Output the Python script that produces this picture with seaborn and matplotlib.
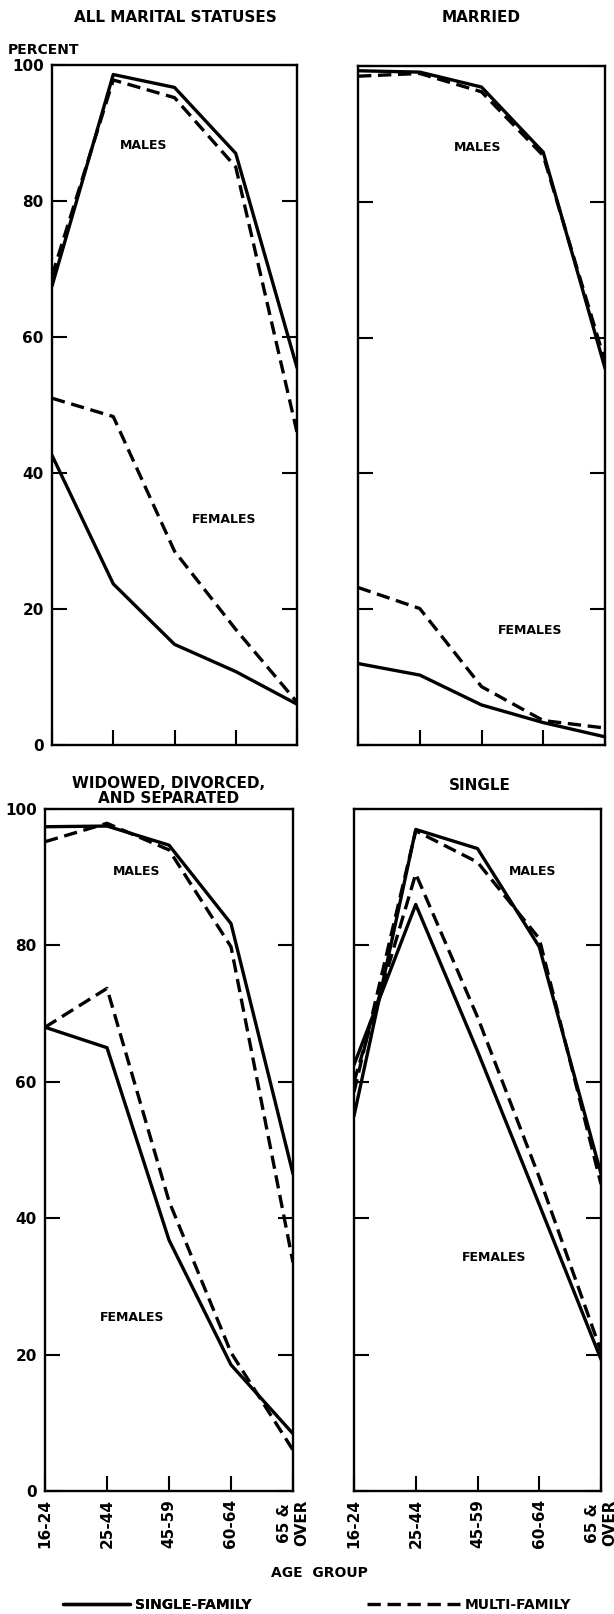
import matplotlib
matplotlib.use('Agg')
import matplotlib.pyplot as plt
import seaborn as sns
import pandas as pd
from matplotlib.lines import Line2D

# age groups along the x axis
ages = ['16-24', '25-44', '45-59', '60-64', '65 &\nOVER']

# percent in labor force
all_m_single = [67.5, 98.6, 96.7, 87.0, 55.5]
all_m_multi = [69.0, 97.8, 95.2, 85.0, 46.0]
all_f_single = [42.6, 23.7, 14.8, 10.8, 6.0]
all_f_multi = [51.0, 48.3, 28.5, 17.0, 6.3]

married_m_single = [99.3, 99.1, 96.9, 87.3, 55.5]
married_m_multi = [98.5, 98.9, 96.2, 86.8, 56.5]
married_f_single = [12.0, 10.3, 5.9, 3.3, 1.2]
married_f_multi = [23.2, 20.1, 8.6, 3.6, 2.5]

wds_m_single = [97.4, 97.5, 94.7, 83.2, 46.5]
wds_m_multi = [95.2, 97.9, 94.0, 79.8, 33.5]
wds_f_single = [68.0, 65.0, 36.8, 18.5, 8.4]
wds_f_multi = [68.0, 73.7, 42.5, 20.3, 6.0]

single_m_single = [55.0, 97.0, 94.2, 79.8, 46.5]
single_m_multi = [58.5, 96.8, 92.2, 81.0, 45.0]
single_f_single = [62.5, 86.0, 64.5, 42.0, 19.3]
single_f_multi = [60.0, 90.5, 69.5, 46.0, 20.5]

sns.set_style('ticks')
plt.rcParams['font.family'] = ['DejaVu Sans']
plt.rcParams['font.weight'] = 'bold'
plt.rcParams['text.color'] = 'black'
plt.rcParams['xtick.color'] = 'black'
plt.rcParams['ytick.color'] = 'black'
plt.rcParams['axes.edgecolor'] = 'black'

W, H = 614, 1614
fig = plt.figure(figsize=(W / 100, H / 100), dpi=100)


def px(x, y):
    """pixel position -> figure fraction"""
    return x / W, 1 - y / H


def make_axes(x0, y0, x1, y1):
    return fig.add_axes([x0 / W, 1 - y1 / H, (x1 - x0) / W, (y1 - y0) / H])


def panel_frame(m_single, m_multi, f_single, f_multi):
    rows = []
    for sex, housing, vals in [('Males', 'Single-family', m_single),
                               ('Males', 'Multi-family', m_multi),
                               ('Females', 'Single-family', f_single),
                               ('Females', 'Multi-family', f_multi)]:
        for i, v in enumerate(vals):
            rows.append({'age': i, 'pct': v, 'line': sex + housing, 'housing': housing})
    return pd.DataFrame(rows)


def draw_panel(ax, df, show_y, show_x, males_xy, females_xy):
    sns.lineplot(data=df, x='age', y='pct', style='housing', units='line',
                 estimator=None, color='black', linewidth=2.4, sort=False,
                 dashes={'Single-family': '', 'Multi-family': (4, 2)},
                 legend=False, ax=ax)
    ax.set_xlim(0, len(ages) - 1)
    ax.set_ylim(0, 100)
    ax.set_xticks(range(len(ages)))
    ax.set_yticks(range(0, 101, 20))
    ax.tick_params(direction='in', length=11, width=1.5, right=True, top=False,
                   labelsize=11, pad=6)
    ax.tick_params(axis='y', labelleft=show_y)
    if show_x:
        ax.set_xticklabels(ages, rotation=90, fontsize=11, fontweight='bold')
    else:
        ax.tick_params(axis='x', labelbottom=False)
    for s in ax.spines.values():
        s.set_linewidth(1.7)
        s.set_color('black')
    ax.set_xlabel('')
    ax.set_ylabel('')
    ax.text(*males_xy, 'MALES', ha='center', va='center', fontsize=9, fontweight='bold')
    ax.text(*females_xy, 'FEMALES', ha='center', va='center', fontsize=9, fontweight='bold')


ax1 = make_axes(52, 65, 297, 745)
ax2 = make_axes(358, 66, 605, 745)
ax3 = make_axes(45, 809, 293, 1491)
ax4 = make_axes(354, 809, 601, 1491)

draw_panel(ax1, panel_frame(all_m_single, all_m_multi, all_f_single, all_f_multi),
           True, False, (1.50, 88.1), (2.81, 33.2))
draw_panel(ax2, panel_frame(married_m_single, married_m_multi, married_f_single, married_f_multi),
           False, False, (1.94, 88.0), (2.79, 16.9))
draw_panel(ax3, panel_frame(wds_m_single, wds_m_multi, wds_f_single, wds_f_multi),
           True, True, (1.48, 90.8), (1.40, 25.4))
draw_panel(ax4, panel_frame(single_m_single, single_m_multi, single_f_single, single_f_multi),
           False, True, (2.90, 90.8), (2.27, 34.3))

title_kw = dict(ha='center', va='center', fontsize=11, fontweight='bold')
fig.text(*px(175, 18), 'ALL MARITAL STATUSES', **title_kw)
fig.text(*px(481, 18), 'MARRIED', **title_kw)
fig.text(*px(169, 791), 'WIDOWED, DIVORCED,\nAND SEPARATED', linespacing=1.0, **title_kw)
fig.text(*px(480, 786), 'SINGLE', **title_kw)
fig.text(*px(8, 50), 'PERCENT', ha='left', va='center', fontsize=10, fontweight='bold')
fig.text(*px(319, 1573), 'AGE  GROUP', ha='center', va='center', fontsize=10, fontweight='bold')

# legend along the bottom
solid = Line2D([], [], color='black', linewidth=2.4)
dashed = Line2D([], [], color='black', linewidth=2.4, linestyle=(0, (4, 2)))
leg_kw = dict(loc='center left', frameon=False, borderpad=0, borderaxespad=0,
              handletextpad=0.35, prop={'size': 10, 'weight': 'bold'})
leg1 = fig.legend([solid], ['SINGLE-FAMILY'], bbox_to_anchor=px(63, 1605),
                  handlelength=4.8, **leg_kw)
fig.add_artist(leg1)
fig.legend([dashed], ['MULTI-FAMILY'], bbox_to_anchor=px(367, 1605),
           handlelength=6.7, **leg_kw)

fig.savefig('out.png', dpi=100)
